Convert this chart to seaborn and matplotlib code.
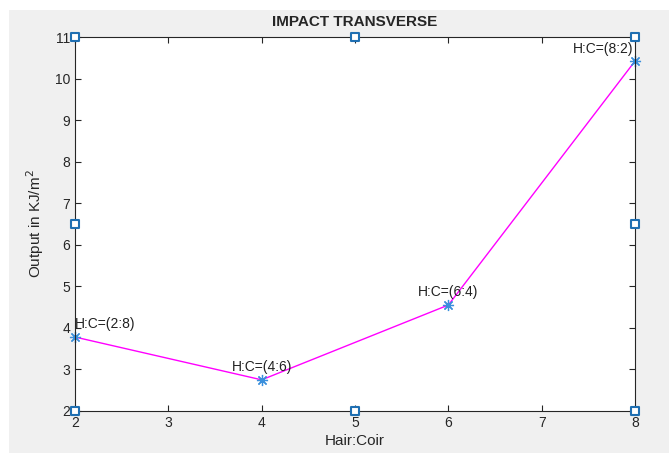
import matplotlib
matplotlib.use("Agg")
import matplotlib.pyplot as plt
import seaborn as sns
import pandas as pd
from matplotlib.patches import Rectangle

# Data
ratio = [2, 4, 6, 8]
impact = [3.78, 2.75, 4.55, 10.42]
labels = ["H:C=(2:8)", "H:C=(4:6)", "H:C=(6:4)", "H:C=(8:2)"]
label_align = ["left", "center", "center", "right"]

sns.set_style("ticks")
plt.rcParams["font.family"] = ["Liberation Sans", "DejaVu Sans"]

df = pd.DataFrame({"ratio": ratio, "impact": impact})

fig = plt.figure(figsize=(6.69, 4.58), dpi=100, facecolor="white")
fig.patches.append(Rectangle((9 / 669, 5 / 458), 660 / 669, 443 / 458,
                             transform=fig.transFigure, facecolor="#f0f0f0",
                             edgecolor="none", zorder=-10))
ax = fig.add_axes([75 / 669, 47 / 458, 560 / 669, 374 / 458])
ax.set_facecolor("white")

sns.lineplot(data=df, x="ratio", y="impact", ax=ax, color="#ff00ff", lw=1,
             marker=(8, 2, 0), markersize=8, markeredgecolor="#3a8fdc",
             markeredgewidth=0.9, clip_on=False)

for x, y, s, ha in zip(ratio, impact, labels, label_align):
    ax.annotate(s, (x, y), xytext=(-1 if ha == "right" else 0, 4),
                textcoords="offset points", ha=ha, va="bottom",
                fontsize=10, color="#222222")

ax.set_xlim(2, 8)
ax.set_ylim(2, 11)
ax.set_xticks(range(2, 9))
ax.set_yticks(range(2, 12))
ax.tick_params(direction="in", top=True, right=True, length=4, width=0.8,
               colors="#262626", labelsize=10, labelcolor="#262626")
for sp in ax.spines.values():
    sp.set_visible(True)
    sp.set_color("#262626")
    sp.set_linewidth(0.8)

ax.set_title("IMPACT TRANSVERSE", fontsize=11, fontweight="bold", pad=8)
ax.set_xlabel("Hair:Coir", fontsize=11, color="#262626", labelpad=3)
ax.set_ylabel("Output in KJ/m$^2$", fontsize=11, color="#262626", labelpad=6)

# editing handles drawn round the axes box
hx = [0, 0.5, 1, 0, 1, 0, 0.5, 1]
hy = [0, 0, 0, 0.5, 0.5, 1, 1, 1]
ax.scatter(hx, hy, transform=ax.transAxes, marker="s", s=26,
           facecolor="white", edgecolor="#1f6fb2", linewidth=1.5,
           clip_on=False, zorder=10)

fig.savefig("out.png", dpi=100, facecolor=fig.get_facecolor())
